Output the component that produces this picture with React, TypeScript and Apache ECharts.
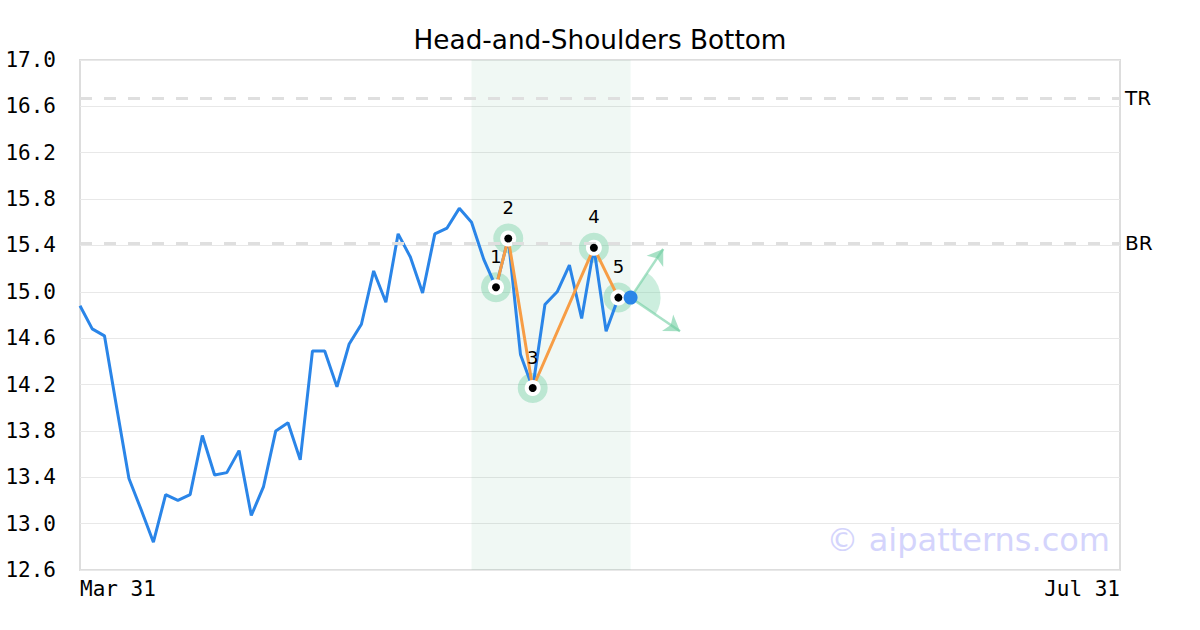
import React, { useEffect, useRef } from "react";
import * as echarts from "echarts";

// ---- data ----
const prices = [
  14.88, 14.68, 14.62, 14.0, 13.39, 13.12, 12.84, 13.25, 13.2, 13.25,
  13.76, 13.42, 13.44, 13.63, 13.07, 13.32, 13.8, 13.87, 13.55, 14.49,
  14.49, 14.18, 14.55, 14.72, 15.18, 14.91, 15.5, 15.3, 14.99, 15.5,
  15.55, 15.72, 15.6, 15.28, 15.04, 15.46, 14.46, 14.17, 14.89, 15.0,
  15.23, 14.77, 15.38, 14.66, 14.95, 14.95,
];
const patternIdx = [34, 35, 37, 42, 44];
const patternLabels = ["1", "2", "3", "4", "5"];
const levelValues = [16.67, 15.42];
const levelNames = ["TR", "BR"];
const zoneRange = [32, 45];
const arrowUpTip = [47.67, 15.37];
const arrowDownTip = [49.04, 14.66];
const xTickValues = [0, 85];
const xTickLabels = ["Mar 31", "Jul 31"];
const yMin = 12.6;
const yMax = 17.0;
const yStep = 0.4;
const title = "Head-and-Shoulders Bottom";
const watermark = "© aipatterns.com";

const BLUE = "#2a85e8";
const ORANGE = "#f79d45";
const MINT = "rgba(110,205,160,0.4)";
const MINT_LINE = "rgba(110,205,160,0.6)";

export default function App() {
  const ref = useRef<HTMLDivElement>(null);

  useEffect(() => {
    if (!ref.current) return;
    const chart = echarts.init(ref.current, undefined, { renderer: "svg" });
    const lineData = prices.map((v, i) => [i, v]);
    const patData = patternIdx.map((i) => [i, prices[i]]);
    const lastIdx = prices.length - 1;
    const last = [lastIdx, prices[lastIdx]];

    const option: any = {
      animation: false,
      textStyle: { fontFamily: "DejaVu Sans" },
      title: {
        text: title,
        left: "center",
        top: 22,
        textStyle: { fontFamily: "DejaVu Sans", fontSize: 26.3, fontWeight: "normal", color: "#000" },
      },
      grid: {
        left: 80,
        right: 80,
        top: 60,
        bottom: 60,
        show: true,
        borderColor: "#dddddd",
        borderWidth: 2,
        backgroundColor: "transparent",
      },
      xAxis: {
        type: "value",
        min: xTickValues[0],
        max: xTickValues[xTickValues.length - 1],
        interval: xTickValues[xTickValues.length - 1] - xTickValues[0],
        axisLine: { show: false },
        axisTick: { show: false },
        splitLine: { show: false },
        axisLabel: {
          margin: 8,
          fontFamily: "DejaVu Sans Mono",
          fontSize: 21,
          color: "#000",
          alignMinLabel: "left",
          alignMaxLabel: "right",
          formatter: (v: number) => {
            const k = xTickValues.indexOf(Math.round(v));
            return k >= 0 ? xTickLabels[k] : "";
          },
        },
      },
      yAxis: {
        type: "value",
        min: yMin,
        max: yMax,
        interval: yStep,
        axisLine: { show: false },
        axisTick: { show: false },
        splitLine: { lineStyle: { color: "#e8e8e8", width: 1 } },
        axisLabel: {
          margin: 24,
          fontFamily: "DejaVu Sans Mono",
          fontSize: 21,
          color: "#000",
          formatter: (v: number) => v.toFixed(1),
        },
      },
      graphic: [
        {
          type: "text",
          right: 90,
          top: 524,
          z: 0,
          style: {
            text: watermark,
            fontFamily: "DejaVu Sans",
            fontSize: 32,
            fill: "#d4d4fc",
          },
        },
      ],
      series: [
        {
          type: "line",
          name: "price",
          data: lineData,
          symbol: "none",
          z: 2,
          lineStyle: { color: BLUE, width: 3 },
          itemStyle: { color: BLUE },
          markArea: {
            silent: true,
            itemStyle: { color: "rgba(60,170,120,0.08)" },
            data: [[{ xAxis: zoneRange[0] }, { xAxis: zoneRange[1] }]],
          },
          markLine: {
            silent: true,
            symbol: "none",
            lineStyle: { color: "#dfdfdf", width: 3, type: [12, 12] },
            label: {
              show: true,
              position: "end",
              distance: 5,
              formatter: "{b}",
              fontFamily: "DejaVu Sans",
              fontSize: 20,
              color: "#000",
            },
            data: levelValues.map((v, k) => ({ yAxis: v, name: levelNames[k] })),
          },
        },
        {
          type: "scatter",
          data: patData,
          symbolSize: 30,
          z: 1,
          itemStyle: { color: MINT, opacity: 1 },
        },
        {
          type: "line",
          data: patData,
          symbol: "none",
          z: 3,
          lineStyle: { color: ORANGE, width: 3 },
        },
        {
          type: "scatter",
          data: patData,
          symbolSize: 16,
          z: 4,
          itemStyle: { color: "#ffffff", opacity: 1 },
        },
        {
          type: "scatter",
          data: patData,
          symbolSize: 8,
          z: 5,
          itemStyle: { color: "#000", opacity: 1 },
          label: {
            show: true,
            position: "top",
            distance: 18,
            fontFamily: "DejaVu Sans",
            fontSize: 18,
            color: "#000",
            formatter: (p: any) => patternLabels[p.dataIndex],
          },
        },
        {
          type: "custom",
          z: 2,
          data: [last],
          renderItem: (params: any, api: any) => {
            const c = api.coord([api.value(0), api.value(1)]);
            const a = api.coord(arrowUpTip);
            const b = api.coord(arrowDownTip);
            const sa = Math.atan2(a[1] - c[1], a[0] - c[0]);
            const ea = Math.atan2(b[1] - c[1], b[0] - c[0]);
            return {
              type: "sector",
              shape: { cx: c[0], cy: c[1], r: 30, r0: 0, startAngle: sa, endAngle: ea, clockwise: true },
              style: { fill: "rgba(110,205,160,0.35)" },
            };
          },
        },
        {
          type: "scatter",
          data: [last],
          symbolSize: 14,
          z: 6,
          itemStyle: { color: BLUE, opacity: 1 },
          markLine: {
            silent: true,
            symbol: ["none", "arrow"],
            symbolSize: 15,
            lineStyle: { color: MINT_LINE, width: 2.5, type: "solid" },
            label: { show: false },
            data: [
              [{ coord: last }, { coord: arrowUpTip }],
              [{ coord: last }, { coord: arrowDownTip }],
            ],
          },
        },
      ],
    };
    chart.setOption(option);
    return () => chart.dispose();
  }, []);

  return (
    <div
      ref={ref}
      style={{ position: "fixed", left: 0, top: 0, width: 1200, height: 630, background: "#fff" }}
    />
  );
}
